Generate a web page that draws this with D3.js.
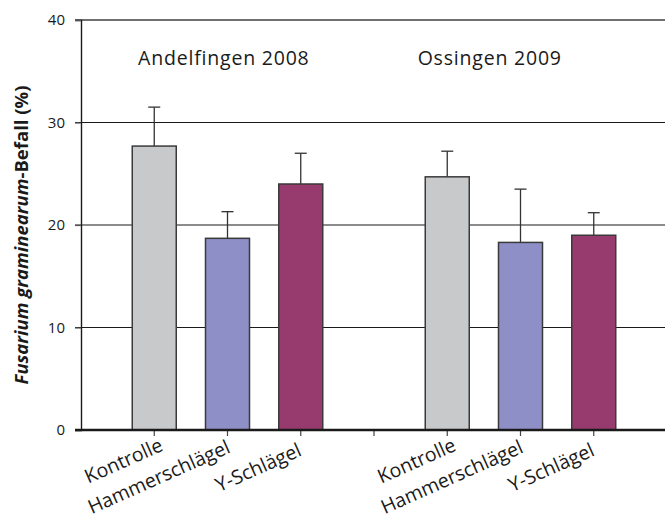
<!DOCTYPE html>
<html>
<head>
<meta charset="utf-8">
<script src="https://cdn.jsdelivr.net/npm/d3@7"></script>
<style>
  body { margin: 0; background: #fff; }
  svg { display: block; font-family: "Open Sans", "Noto Sans", sans-serif; }
</style>
</head>
<body>
<svg id="chart" width="665" height="521"></svg>
<script>
// values
const sites = ['Andelfingen 2008', 'Ossingen 2009'];
const treatments = ['Kontrolle', 'Hammerschlägel', 'Y-Schlägel'];
const colors = ['#c8c9cb', '#8f8fc7', '#973a6d'];
const means = [[27.7, 18.7, 24.0], [24.7, 18.3, 19.0]];
const errors = [[31.5, 21.3, 27.0], [27.2, 23.5, 21.2]];
const yTicks = [0, 10, 20, 30, 40];

const svg = d3.select('#chart');
const plotL = 81, plotR = 667, plotT = 20, plotB = 430;

// label nudges (px) - the labels in the original are not placed uniformly
const labelDx = [10, 4, 2], labelDy = [20, 22, 25];
const titleSlot = [1.95, 5.58];

// slot 0 = axis, 1-3 first site, 4 = gap, 5-7 second site
const x = d3.scaleLinear().domain([0, 8]).range([plotL, plotR]);
const y = d3.scaleLinear().domain([0, 40]).range([plotB, plotT]);
const slot = (s, t) => 1 + s * 4 + t;
const barW = 44;

// gridlines
svg.append('g')
    .selectAll('line')
    .data(yTicks.filter(d => d > 0))
    .enter()
    .append('line')
    .attr('x1', plotL - 6).attr('x2', 665)
    .attr('y1', d => y(d)).attr('y2', d => y(d))
    .attr('stroke', d => d === 40 ? '#6f6f6f' : '#1a1a1a')
    .attr('stroke-width', d => d === 40 ? 2 : 1.1);

// y axis
const yAxis = svg.append('g')
    .attr('transform', `translate(${plotL},0)`)
    .call(d3.axisLeft(y).tickValues(yTicks).tickSize(6).tickPadding(10));
yAxis.select('.domain').attr('stroke', '#1a1a1a').attr('stroke-width', 1.4);
yAxis.selectAll('.tick line').attr('stroke', '#555').attr('stroke-width', 1.2);
yAxis.selectAll('.tick text').attr('font-size', 15).attr('fill', '#1a1a1a')
    .attr('font-family', '"Open Sans", sans-serif');

// bars
const rows = [];
sites.forEach((s, si) => treatments.forEach((t, ti) => {
    rows.push({ si, ti, mean: means[si][ti], err: errors[si][ti] });
}));

const g = svg.append('g');
g.selectAll('line.err')
    .data(rows)
    .enter()
    .append('line')
    .attr('class', 'err')
    .attr('x1', d => x(slot(d.si, d.ti))).attr('x2', d => x(slot(d.si, d.ti)))
    .attr('y1', d => y(d.mean)).attr('y2', d => y(d.err))
    .attr('stroke', '#333').attr('stroke-width', 1.3);
g.selectAll('line.cap')
    .data(rows)
    .enter()
    .append('line')
    .attr('class', 'cap')
    .attr('x1', d => x(slot(d.si, d.ti)) - 6).attr('x2', d => x(slot(d.si, d.ti)) + 6)
    .attr('y1', d => y(d.err)).attr('y2', d => y(d.err))
    .attr('stroke', '#333').attr('stroke-width', 1.3);
g.selectAll('rect')
    .data(rows)
    .enter()
    .append('rect')
    .attr('x', d => x(slot(d.si, d.ti)) - barW / 2)
    .attr('width', barW)
    .attr('y', d => y(d.mean))
    .attr('height', d => y(0) - y(d.mean))
    .attr('fill', d => colors[d.ti])
    .attr('stroke', '#3a3a3a')
    .attr('stroke-width', 1.5);

// x axis
const xTickVals = d3.range(1, 8);
svg.append('g')
    .selectAll('line')
    .data(xTickVals)
    .enter()
    .append('line')
    .attr('x1', d => x(d)).attr('x2', d => x(d))
    .attr('y1', plotB).attr('y2', plotB + 6)
    .attr('stroke', '#444').attr('stroke-width', 1.2);
svg.append('line')
    .attr('x1', plotL - 6).attr('x2', 665)
    .attr('y1', plotB).attr('y2', plotB)
    .attr('stroke', '#1a1a1a').attr('stroke-width', 2.4);

// x labels
svg.append('g')
    .selectAll('text')
    .data(rows)
    .enter()
    .append('text')
    .attr('transform', d => `translate(${x(slot(d.si, d.ti)) + labelDx[d.ti]},${plotB + labelDy[d.ti]}) rotate(-24)`)
    .attr('text-anchor', 'end')
    .attr('font-size', 19.5)
    .attr('fill', '#1a1a1a')
    .text(d => treatments[d.ti]);

// site titles
svg.append('g')
    .selectAll('text')
    .data(sites)
    .enter()
    .append('text')
    .attr('x', (d, i) => x(titleSlot[i]))
    .attr('y', 65)
    .attr('text-anchor', 'middle')
    .attr('font-size', 19.5)
    .attr('letter-spacing', 0.8)
    .attr('fill', '#1a1a1a')
    .text(d => d);

// y label
const yl = svg.append('text')
    .attr('transform', `translate(28,${(plotT + plotB) / 2 + 10}) rotate(-90)`)
    .attr('text-anchor', 'middle')
    .attr('font-size', 18.5)
    .attr('font-weight', 'bold')
    .attr('fill', '#1a1a1a');
yl.append('tspan').attr('font-style', 'italic').text('Fusarium graminearum');
yl.append('tspan').text('-Befall (%)');
</script>
</body>
</html>
